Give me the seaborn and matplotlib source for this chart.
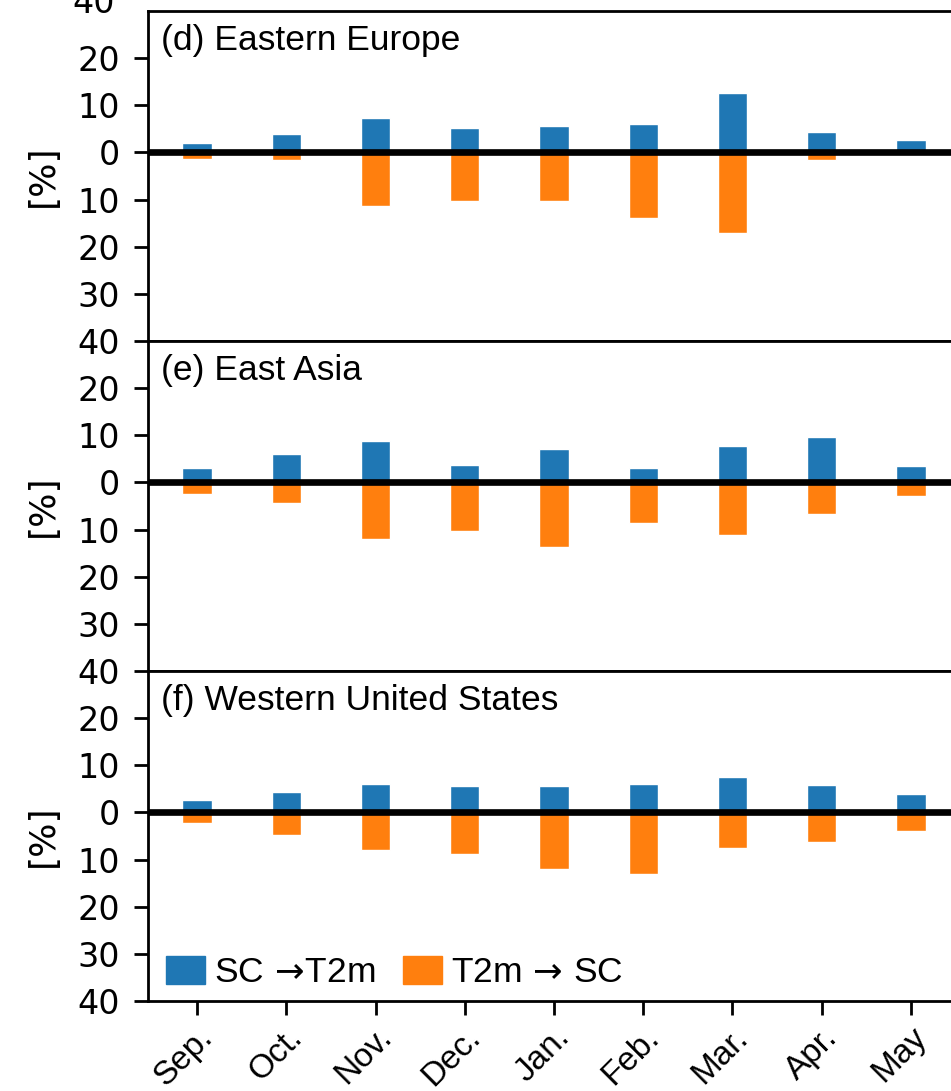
import matplotlib
matplotlib.use('Agg')
import matplotlib.pyplot as plt
import matplotlib.transforms as mtransforms
from matplotlib.patches import Patch
import seaborn as sns
import pandas as pd

months = ['Sep.', 'Oct.', 'Nov.', 'Dec.', 'Jan.', 'Feb.', 'Mar.', 'Apr.', 'May']
regions = ['(d) Eastern Europe', '(e) East Asia', '(f) Western United States']

# SC -> T2m (upward bars) and T2m -> SC (downward bars), in %
sc_t2m_eeu = [2.1, 3.9, 7.4, 5.1, 5.6, 6.1, 12.6, 4.3, 2.6]
t2m_sc_eeu = [1.3, 1.7, 11.3, 10.4, 10.4, 14.0, 17.0, 1.6, 0.3]
sc_t2m_eas = [3.1, 6.1, 8.7, 3.8, 7.0, 3.1, 7.8, 9.6, 3.5]
t2m_sc_eas = [2.5, 4.3, 12.1, 10.3, 13.8, 8.6, 11.2, 6.8, 2.9]
sc_t2m_wus = [2.7, 4.4, 6.1, 5.7, 5.7, 6.1, 7.5, 5.9, 3.9]
t2m_sc_wus = [2.2, 4.8, 7.9, 8.8, 11.9, 13.1, 7.5, 6.2, 4.0]

ytick_vals = [-40, -30, -20, -10, 0, 10, 20]
ytick_labels = ['40', '30', '20', '10', '0', '10', '20']

blue = '#1f77b4'
orange = '#ff7f0e'
label_font = ['Liberation Sans', 'DejaVu Sans']

sns.set_style('ticks')
plt.rcParams['font.family'] = ['DejaVu Sans']
plt.rcParams['mathtext.fontset'] = 'dejavusans'
for key in ['text.color', 'axes.labelcolor', 'xtick.color', 'ytick.color', 'axes.edgecolor']:
    plt.rcParams[key] = 'black'
plt.rcParams['axes.linewidth'] = 2

fig = plt.figure(figsize=(9.51, 10.91), dpi=100)
W, H = 951.0, 1091.0
ax_left = 148 / W
ax_w = 812 / W
panel_h = 330 / H
tops = [11, 341, 671]

data = [(sc_t2m_eeu, t2m_sc_eeu), (sc_t2m_eas, t2m_sc_eas), (sc_t2m_wus, t2m_sc_wus)]

axes = []
for i, (up, down) in enumerate(data):
    bottom = 1 - (tops[i] + 330) / H
    ax = fig.add_axes([ax_left, bottom, ax_w, panel_h])
    axes.append(ax)
    df = pd.DataFrame({'month': months, 'up': up, 'down': [-v for v in down]})
    sns.barplot(data=df, x='month', y='up', order=months, color=blue,
                saturation=1, width=0.33, errorbar=None, ax=ax, zorder=2)
    sns.barplot(data=df, x='month', y='down', order=months, color=orange,
                saturation=1, width=0.33, errorbar=None, ax=ax, zorder=2)
    ax.axhline(0, color='k', lw=4.8, zorder=3)
    ax.set_xlim(-0.55, 8.55)
    ax.set_ylim(-40, 30)
    ax.set_yticks(ytick_vals)
    ax.set_yticklabels(ytick_labels)
    ax.tick_params(axis='y', length=10, width=2, pad=10, labelsize=24)
    ax.set_xlabel('')
    ax.set_ylabel('[%]', fontsize=26, labelpad=13)
    ax.text(0.016, 0.96, regions[i], transform=ax.transAxes, ha='left', va='top',
            fontsize=25.5, family=label_font)
    for s in ['top', 'right', 'bottom', 'left']:
        ax.spines[s].set_visible(True)
        ax.spines[s].set_linewidth(2)
    if i < 2:
        ax.tick_params(axis='x', length=0, labelbottom=False)
    else:
        ax.tick_params(axis='x', length=10, width=2, pad=5)
        ax.set_xticks(range(len(months)))
        ax.set_xticklabels(months, rotation=45, ha='right', rotation_mode='anchor',
                           fontsize=24, family=label_font)

# bottom label of the panel above, cut off at the top edge
trans = mtransforms.blended_transform_factory(axes[0].transAxes, axes[0].transData)
axes[0].text(-0.041, 31.5, '40', transform=trans, ha='right', va='center', fontsize=24)

handles = [Patch(color=blue), Patch(color=orange)]
axes[2].legend(handles, [r'SC $\!\rightarrow\!$T2m', r'T2m $\!\rightarrow\!$ SC'],
               loc='lower left', bbox_to_anchor=(0.022, 0.035), borderaxespad=0,
               borderpad=0, ncol=2, frameon=False, handlelength=1.1, handleheight=0.85,
               handletextpad=0.25, columnspacing=0.8,
               prop={'family': label_font, 'size': 25.5})

fig.savefig('out.png', dpi=100)
